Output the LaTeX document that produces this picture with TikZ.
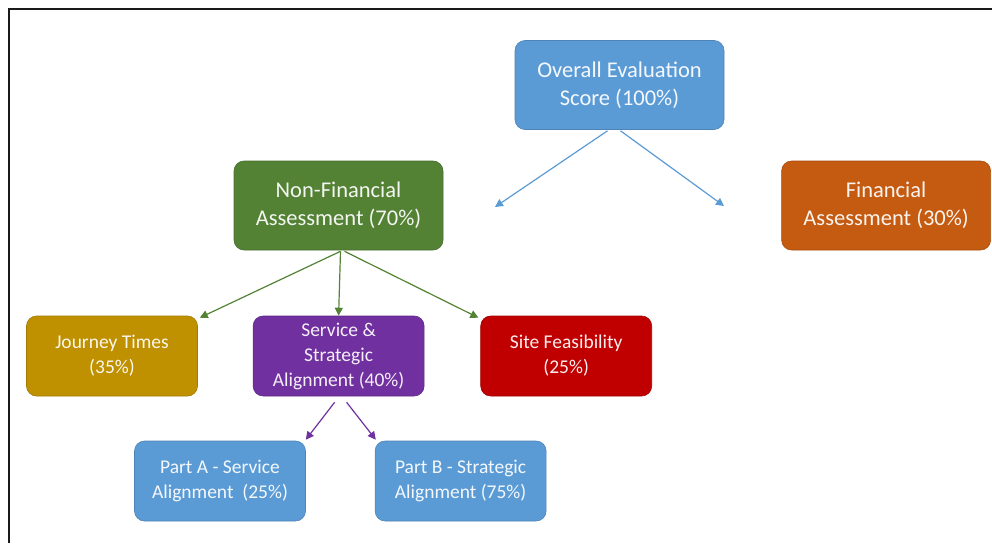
\documentclass[tikz,border=0pt]{standalone}
\usepackage{fontspec}
\setmainfont{Carlito}
\usepackage{tikz}
\usetikzlibrary{arrows.meta,positioning,calc}
\definecolor{frameline}{HTML}{1A1A1A}
\definecolor{sky}{HTML}{5B9BD5}
\definecolor{leaf}{HTML}{548235}
\definecolor{rust}{HTML}{C55A11}
\definecolor{ochre}{HTML}{BF9000}
\definecolor{plum}{HTML}{7030A0}
\definecolor{crimson}{HTML}{C00000}

\begin{document}
\begin{tikzpicture}[
  x=1pt,y=-1pt,
  bigbox/.style={rounded corners=10pt,draw=#1!85!black,line width=0.6pt,fill=#1,
    text=white!93!#1,align=center,minimum width=209pt,minimum height=89pt,
    inner sep=0pt,font=\fontsize{22.5}{28}\selectfont},
  smallbox/.style={rounded corners=10pt,draw=#1!85!black,line width=0.6pt,fill=#1,
    text=white!93!#1,align=center,minimum width=171pt,minimum height=80pt,
    inner sep=0pt,font=\fontsize{19.5}{25}\selectfont},
  link/.style={draw=#1,line width=1.2pt,-{Triangle[length=8pt,width=8pt]}}
]
\useasboundingbox (0,0) rectangle (992,543);
% cropped frame, only left and top edges show
\draw[frameline,line width=2pt] (9,543) -- (9,9) -- (992,9);

\node[bigbox=sky] (overall) at (619.5,85) {Overall Evaluation\\Score (100\%)};
\node[bigbox=leaf] (nonfin) at (338.5,205.5) {Non-Financial\\Assessment (70\%)};
\node[bigbox=rust,right=338pt of nonfin] (fin) {Financial\\Assessment (30\%)};

\node[smallbox=ochre] (journey) at (112,356) {Journey Times\\(35\%)};
\node[smallbox=plum,right=55pt of journey] (service)
  {Service \&\\Strategic\\Alignment (40\%)};
\node[smallbox=crimson,right=56pt of service] (site) {Site Feasibility\\(25\%)};

\node[smallbox=sky] (parta) at (220,481) {Part A - Service\\Alignment~~(25\%)};
\node[smallbox=sky,right=69pt of parta] (partb) {Part B - Strategic\\Alignment (75\%)};

% top split: arrows stop short of the boxes
\coordinate (leftend) at (495,207);
\coordinate (rightend) at (724,206);
\draw[link=sky] ($(overall.south)+(-12,1)$) -- (leftend);
\draw[link=sky] ($(overall.south)+(1,1)$) -- (rightend);

\draw[link=leaf] ($(nonfin.south)+(2,1)$) -- ($(journey.north east)+(2,2)$);
\draw[link=leaf] ($(nonfin.south)+(2,1)$) -- (service.north);
\draw[link=leaf] ($(nonfin.south)+(6,1)$) -- ($(site.north west)+(-2,2)$);

\draw[link=plum] ($(service.south)+(-4,6)$) -- ($(parta.north east)+(0,-1)$);
\draw[link=plum] ($(service.south)+(8,6)$) -- ($(partb.north west)+(1,-1)$);
\end{tikzpicture}
\end{document}
